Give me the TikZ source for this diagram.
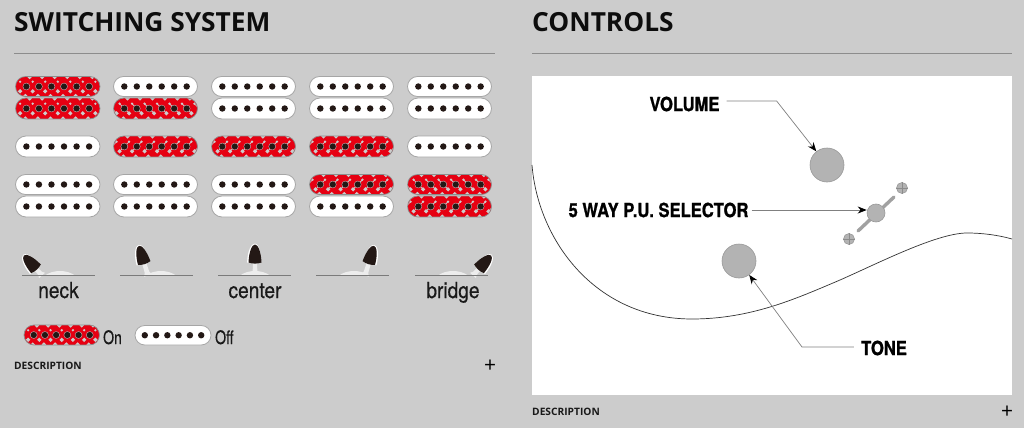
\documentclass[tikz,border=0pt]{standalone}
\usepackage{fontspec}
\setmainfont{Open Sans}
\newfontfamily\hv[FakeBold=0.5]{TeX Gyre Heros}
\newfontfamily\hvb[FakeBold=1.2]{TeX Gyre Heros}
\usetikzlibrary{arrows.meta}
\definecolor{bg}{HTML}{CCCCCC}
\definecolor{pured}{HTML}{E60012}
\definecolor{dotc}{HTML}{231815}
\definecolor{knob}{HTML}{B3B3B3}
\definecolor{ruleg}{HTML}{8C8C8C}
\tikzset{
  title/.style={anchor=base west,inner sep=0pt,font=\fontsize{26.3}{28}\selectfont\bfseries,text=black!95},
  desc/.style={anchor=base west,inner sep=0pt,font=\fontsize{10.2}{11}\selectfont\bfseries,text=black!90},
  plus/.style={anchor=center,inner sep=0pt,font=\fontsize{21}{22}\selectfont},
  toglabel/.style={anchor=base,inner sep=0pt,font=\fontsize{22}{23}\selectfont\hv,xscale=.87,text=black!90},
  legendlabel/.style={anchor=base west,inner sep=0pt,font=\fontsize{18.5}{20}\selectfont\hv,xscale=.76,text=black!90},
  ctllabel/.style={inner sep=0pt,font=\fontsize{19.5}{21}\selectfont\hvb\bfseries,xscale=.85,text=black},
  knobc/.style={circle,draw=black!40,fill=knob,line width=.6pt,inner sep=0pt},
  leader/.style={draw=black!50,line width=.7pt,-{Stealth[length=9pt,width=7pt,black]}},
}
\newcommand{\dia}[3]{\fill[bg] ({#1-#3},{#2}) -- ++(#3,-#3) -- ++(#3,#3) -- ++(-#3,#3) -- cycle;}
% #1 left, #2 top, #3 width, #4 height
\newcommand{\puoff}[4]{%
  \draw[fill=white,draw=black!35,line width=.8pt,rounded corners=#4*0.5pt] (#1,#2) rectangle ++(#3,#4);
  \pgfmathsetmacro{\sp}{0.1485*#3}
  \foreach \i in {-2.5,-1.5,-0.5,0.5,1.5,2.5}{\fill[dotc] ({#1+#3/2+\i*\sp},{#2+#4/2}) circle (3.2);}
}
% #5 slant: 0 none, 1 "/", -1 "\"
\newcommand{\puon}[5]{%
  \pgfmathsetmacro{\sp}{0.1485*#3}
  \begin{scope}
  \clip[rounded corners=#4*0.5pt] (#1,#2) rectangle ++(#3,#4);
  \fill[pured] (#1,#2) rectangle ++(#3,#4);
  \foreach \i in {-3.5,-2.5,-1.5,-0.5,0.5,1.5,2.5,3.5}{
    \pgfmathsetmacro{\dx}{#1+#3/2+\i*\sp}
    \pgfmathsetmacro{\cy}{#2+#4/2}
    \dia{\dx+0.5*\sp+(#5)*1.5}{\cy+4.8}{2.2}
    \dia{\dx+0.5*\sp-(#5)*1.5}{\cy-4.8}{1.3}
    \dia{\dx+3.2}{#2+0.4}{2.3}
    \dia{\dx-1}{#2+#4-0.4}{2.3}
    \draw[bg,line width=.8pt] ({\dx-(#5)*4.5},{\cy+abs(#5)*4.5}) -- ({\dx+(#5)*4.5},{\cy-abs(#5)*4.5});
  }
  \end{scope}
  \draw[draw=black!45,line width=.7pt,rounded corners=#4*0.5pt] (#1,#2) rectangle ++(#3,#4);
  \foreach \i in {-2.5,-1.5,-0.5,0.5,1.5,2.5}{
    \fill[dotc] ({#1+#3/2+\i*\sp},{#2+#4/2}) circle (3.3);
    \draw[black!30,line width=.4pt] ({#1+#3/2+\i*\sp},{#2+#4/2}) circle (3.5);
  }
}
% #1 line left, #2 base x, #3 angle, #4 stem length, #5 dome centre, #6 highlight side
\newcommand{\tog}[6]{%
  \fill[black!7] (#5-15,275.5) .. controls (#5-7,269.5) and (#5+7,269.5) .. (#5+15,275.5) -- cycle;
  \begin{scope}[shift={(#2,275.5)},rotate=#3]
    \fill[black!7] (-4,0) .. controls (-2.2,-2) .. (-2.2,{-#4-2}) -- (2.2,{-#4-2}) .. controls (2.2,-2) .. (4,0) -- cycle;
    \fill[white] ({#6*1.0-6.9},{-#4}) .. controls ({#6*1.0-6.6},{-#4-12}) and (-3.5,{-#4-19}) .. (0,{-#4-19}) .. controls (3.5,{-#4-19}) and ({#6*1.0+6.6},{-#4-12}) .. ({#6*1.0+6.9},{-#4}) -- cycle;
    \fill[dotc] (-6.5,{-#4}) .. controls (-6,{-#4-11}) and (-3,{-#4-18}) .. (0,{-#4-18}) .. controls (3,{-#4-18}) and (6,{-#4-11}) .. (6.5,{-#4}) .. controls (2,{-#4+1.5}) and (-2,{-#4+1.5}) .. (-6.5,{-#4}) -- cycle;
  \end{scope}
  \draw[black!40!bg,line width=1pt] (#1,275.5) -- ++(73,0);
}
\begin{document}
\begin{tikzpicture}[x=1pt,y=-1pt]
\useasboundingbox (0,0) rectangle (1024,428);
\fill[bg] (0,0) rectangle (1024,428);
\node[title] (t1) at (14,31.5) {SWITCHING SYSTEM};
\node[title] (t2) at (532,31.5) {CONTROLS};
\draw[ruleg,line width=.8pt] (14,53) -- (495,53);
\draw[ruleg,line width=.8pt] (532,53) -- (1012,53);
% row 1
\puon{15.5}{76.5}{84.5}{20}{0}\puon{15.5}{98}{84.5}{21}{0}
\puoff{113.5}{76.5}{84}{20}\puon{113.5}{98}{84}{21}{-1}
\puoff{211.5}{76.5}{84}{20}\puoff{211.5}{98}{84}{21}
\puoff{309.5}{76.5}{84}{20}\puoff{309.5}{98}{84}{21}
\puoff{407.5}{76.5}{84}{20}\puoff{407.5}{98}{84}{21}
% row 2
\puoff{15.5}{136}{84.5}{21}
\puon{113.5}{136}{84}{21}{1}
\puon{211.5}{136}{84}{21}{1}
\puon{309.5}{136}{84}{21}{1}
\puoff{407.5}{136}{84}{21}
% row 3
\puoff{15.5}{174.5}{84.5}{20}\puoff{15.5}{196}{84.5}{21}
\puoff{113.5}{174.5}{84}{20}\puoff{113.5}{196}{84}{21}
\puoff{211.5}{174.5}{84}{20}\puoff{211.5}{196}{84}{21}
\puon{309.5}{174.5}{84}{20}{1}\puoff{309.5}{196}{84}{21}
\puon{407.5}{174.5}{84}{20}{-1}\puon{407.5}{196}{84}{21}{1}
% toggles
\tog{22}{42}{42}{9}{60}{-1}
\tog{120}{148}{17}{13}{161}{-1}
\tog{218}{255}{0}{13}{255}{-1}
\tog{316}{365}{-17}{13}{354}{1}
\tog{415}{473}{-42}{9}{453}{1}
\node[toglabel] (l1) at (58.5,298) {neck};
\node[toglabel] (l2) at (255,298) {center};
\node[toglabel] (l3) at (453,298) {bridge};
% legend
\puon{24}{325}{75.5}{20}{0}
\puoff{135}{325.5}{76}{19.5}
\node[legendlabel] (on) at (103,344) {On};
\node[legendlabel] (off) at (215,344) {Off};
\node[desc] (d1) at (14,369) {DESCRIPTION};
\node[plus] (p1) at (490,366) {+};
% controls
\fill[white] (532,76) rectangle (1012,395);
\draw[black!80,line width=.7pt] (532,165) .. controls (538,240) and (595,319) .. (692,319) .. controls (750,319) and (795,299) .. (833,283) .. controls (870,267.5) and (935,233) .. (967,233) .. controls (982,233) and (998,235) .. (1012,239);
\node[knobc,minimum size=34pt] (vol) at (827,165) {};
\node[knobc,minimum size=34pt] (tone) at (739,261) {};
\draw[knob!90!black,line width=3.4pt,line cap=round] (858,231) -- (894,197);
\node[knobc,minimum size=18pt] (sel) at (876,213) {};
\node[knobc,minimum size=11pt] (s1) at (902,188) {};
\node[knobc,minimum size=11pt] (s2) at (849,239) {};
\draw[black!45,line width=.4pt] (s1.west) -- (s1.east) (s1.north) -- (s1.south) (s2.west) -- (s2.east) (s2.north) -- (s2.south);
\node[ctllabel] (volL) at (684.5,104) {VOLUME};
\node[ctllabel] (selL) at (658.5,210) {5 WAY P.U. SELECTOR};
\node[ctllabel] (toneL) at (884,348) {TONE};
\draw[leader] (volL.east) ++(7,-3) -- ++(50,0) -- (vol);
\draw[leader] (selL.east) ++(3,0) -- (sel.west|-selL);
\draw[leader] (toneL.west) ++(-7,-1) -- ++(-52,0) -- (tone);
\node[desc] (d2) at (532,415) {DESCRIPTION};
\node[plus] (p2) at (1007,412) {+};
\end{tikzpicture}
\end{document}
